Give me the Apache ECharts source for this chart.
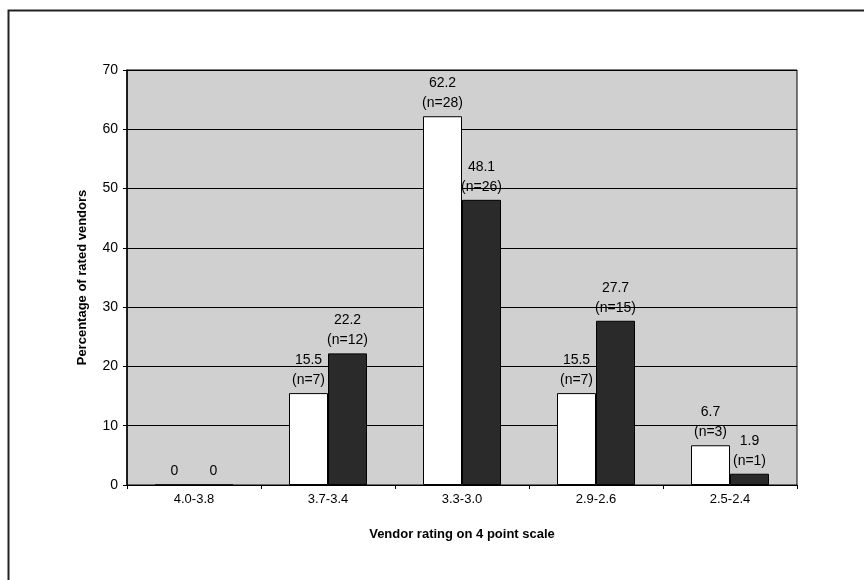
<!DOCTYPE html>
<html>
<head>
<meta charset="utf-8">
<script src="https://cdn.jsdelivr.net/npm/echarts@6/dist/echarts.min.js"></script>
<style>html,body{margin:0;padding:0;background:#fff}#c{width:864px;height:580px}</style>
</head>
<body>
<div id="c"></div>
<script>
var categories = ['4.0-3.8', '3.7-3.4', '3.3-3.0', '2.9-2.6', '2.5-2.4'];
var seriesA = [0, 15.5, 62.2, 15.5, 6.7];
var countsA = [null, 7, 28, 7, 3];
var seriesB = [0, 22.2, 48.1, 27.7, 1.9];
var countsB = [null, 12, 26, 15, 1];
var yTicks = [0, 10, 20, 30, 40, 50, 60, 70];

function mkLabel(counts) {
  return function (p) {
    var n = counts[p.dataIndex];
    return n == null ? String(p.value) : p.value + '\n(n=' + n + ')';
  };
}
var font = '"Liberation Sans", Arial, sans-serif';
var chart = echarts.init(document.getElementById('c'));
chart.setOption({
  animation: false,
  backgroundColor: '#fff',
  textStyle: { fontFamily: font },
  graphic: [{
    type: 'rect', left: 6, top: 8,
    shape: { width: 900, height: 620 },
    style: { fill: 'none', stroke: '#222', lineWidth: 2 },
    silent: true
  }],
  grid: {
    left: 127, top: 70, right: 67, bottom: 95,
    show: true, backgroundColor: '#d0d0d0', borderColor: '#000', borderWidth: 1
  },
  xAxis: {
    type: 'category', data: categories,
    name: 'Vendor rating on 4 point scale', nameLocation: 'middle', nameGap: 43,
    nameTextStyle: { fontSize: 13, fontWeight: 'bold', color: '#000', fontFamily: font },
    axisLine: { lineStyle: { color: '#000', width: 1 } },
    axisTick: { show: true, length: 4, lineStyle: { color: '#000' } },
    axisLabel: { fontSize: 13, color: '#000', margin: 8, fontFamily: font }
  },
  yAxis: {
    type: 'value', min: yTicks[0], max: yTicks[yTicks.length - 1], interval: 10,
    name: 'Percentage of rated vendors', nameLocation: 'middle', nameGap: 38,
    nameTextStyle: { fontSize: 13, fontWeight: 'bold', color: '#000', fontFamily: font },
    axisLine: { show: true, lineStyle: { color: '#000', width: 1.5 } },
    axisTick: { show: true, length: 4, lineStyle: { color: '#000' } },
    axisLabel: { fontSize: 14, color: '#000', margin: 9, fontFamily: font },
    splitLine: { show: true, lineStyle: { color: '#000', width: 1 } }
  },
  series: [{
    type: 'bar', data: seriesA, barWidth: 39, barGap: '0%',
    itemStyle: { color: '#fff', borderColor: '#000', borderWidth: 1 },
    label: { show: true, position: 'top', distance: 3, formatter: mkLabel(countsA),
      fontSize: 14, color: '#000', lineHeight: 20, fontFamily: font }
  }, {
    type: 'bar', data: seriesB, barWidth: 39,
    itemStyle: { color: '#2a2a2a', borderColor: '#000', borderWidth: 1 },
    label: { show: true, position: 'top', distance: 3, formatter: mkLabel(countsB),
      fontSize: 14, color: '#000', lineHeight: 20, fontFamily: font }
  }]
});
</script>
</body>
</html>
